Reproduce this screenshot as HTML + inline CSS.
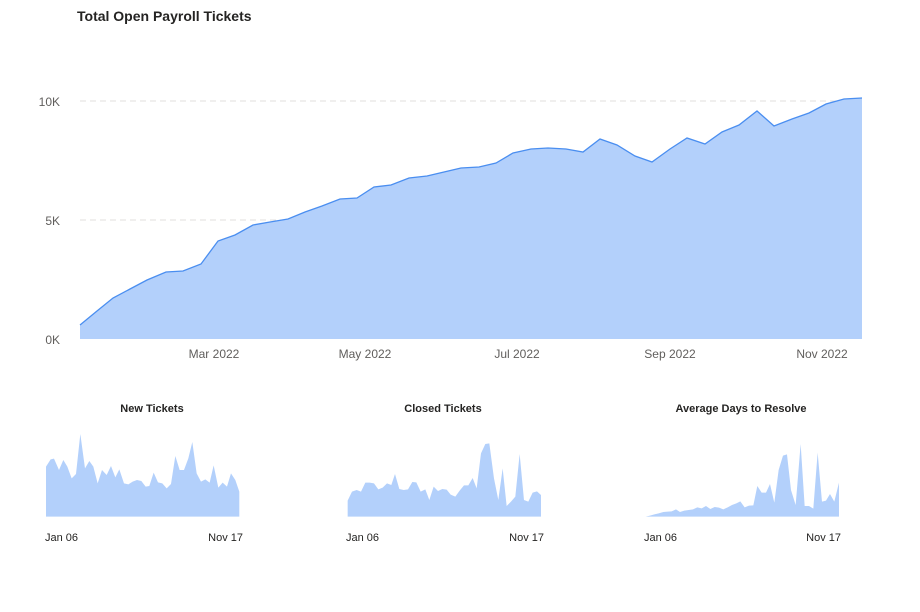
<!DOCTYPE html>
<html><head><meta charset="utf-8"><style>
body{margin:0;background:#fff;width:920px;height:607px;overflow:hidden;font-family:"Liberation Sans",sans-serif}
</style></head><body>
<svg width="920" height="607" xmlns="http://www.w3.org/2000/svg" font-family="'Liberation Sans',sans-serif">
<text x="77" y="21" font-size="14" font-weight="bold" fill="#252423">Total Open Payroll Tickets</text>
<line x1="80" y1="101" x2="862" y2="101" stroke="#e1dfdd" stroke-dasharray="6,4"/>
<line x1="80" y1="220" x2="862" y2="220" stroke="#e1dfdd" stroke-dasharray="6,4"/>
<g font-size="12" fill="#605e5c">
<text x="60" y="106" text-anchor="end">10K</text>
<text x="60" y="225" text-anchor="end">5K</text>
<text x="60" y="344" text-anchor="end">0K</text>
<text x="214" y="358" text-anchor="middle">Mar 2022</text>
<text x="365" y="358" text-anchor="middle">May 2022</text>
<text x="517" y="358" text-anchor="middle">Jul 2022</text>
<text x="670" y="358" text-anchor="middle">Sep 2022</text>
<text x="822" y="358" text-anchor="middle">Nov 2022</text>
</g>
<polygon fill="#b3d0fb" points="80,339 80,325 97,311 113,298 130,289 147,280 166,272 183,271 201,264 218,241 235,235 253,225 270,222 288,219 305,212 322,206 340,199 357,198 374,187 391,185 409,178 427,176 444,172 461,168 479,167 496,163 513,153 531,149 548,148 566,149 583,152 600,139 617,145 635,156 652,162 670,149 687,138 705,144 722,132 739,125 757,111 774,126 792,119 809,113 826,104 844,99 862,98 862,339"/>
<polyline fill="none" stroke="#4a8ef0" stroke-width="1.3" points="80,325 97,311 113,298 130,289 147,280 166,272 183,271 201,264 218,241 235,235 253,225 270,222 288,219 305,212 322,206 340,199 357,198 374,187 391,185 409,178 427,176 444,172 461,168 479,167 496,163 513,153 531,149 548,148 566,149 583,152 600,139 617,145 635,156 652,162 670,149 687,138 705,144 722,132 739,125 757,111 774,126 792,119 809,113 826,104 844,99 862,98"/>
<g font-size="11" font-weight="bold" fill="#252423" text-anchor="middle">
<text x="152" y="412">New Tickets</text>
<text x="443" y="412">Closed Tickets</text>
<text x="741" y="412">Average Days to Resolve</text>
</g>
<g font-size="11" fill="#252423">
<text x="45" y="541">Jan 06</text><text x="243" y="541" text-anchor="end">Nov 17</text>
<text x="346" y="541">Jan 06</text><text x="544" y="541" text-anchor="end">Nov 17</text>
<text x="644" y="541">Jan 06</text><text x="841" y="541" text-anchor="end">Nov 17</text>
</g>
<g transform="translate(30,420) scale(0.3333)" fill="#b3d0fb">
<polygon points="48,290 48,140 62,118 72,116 87,150 100,120 112,140 125,175 138,162 151,42 165,145 178,123 190,140 203,190 216,150 230,165 243,138 256,172 268,148 282,190 295,193 308,185 321,180 334,183 347,200 358,198 371,158 384,187 397,190 410,205 423,192 436,108 449,150 462,150 475,115 487,66 500,160 513,185 526,178 539,188 551,136 565,203 578,188 591,200 603,160 616,180 628,215 628,290"/>
</g>
<g transform="translate(330,420) scale(0.3333)" fill="#b3d0fb">
<polygon points="53,290 53,242 66,215 80,210 93,215 106,188 119,188 132,190 145,208 158,203 171,190 184,195 195,162 208,207 221,210 234,208 247,186 259,187 272,215 286,208 298,240 311,200 324,213 337,207 350,209 362,224 376,230 389,212 402,196 415,196 428,174 440,205 453,100 466,72 478,70 492,175 505,240 518,145 530,258 543,245 556,230 569,102 582,240 595,245 608,218 621,214 633,225 633,290"/>
</g>
<g transform="translate(630,420) scale(0.3333)" fill="#b3d0fb">
<polygon points="47,290 60,287 73,283 86,280 100,276 113,275 125,274 138,268 150,276 163,272 176,270 189,268 202,262 215,265 228,258 241,267 254,261 267,263 280,268 293,262 306,255 319,250 331,244 344,262 357,257 370,256 382,198 395,218 408,218 420,192 433,248 446,150 459,107 471,103 483,210 497,255 512,72 524,258 537,258 550,266 563,98 576,245 588,242 600,222 613,245 627,188 627,290"/>
</g>
</svg>
</body></html>
